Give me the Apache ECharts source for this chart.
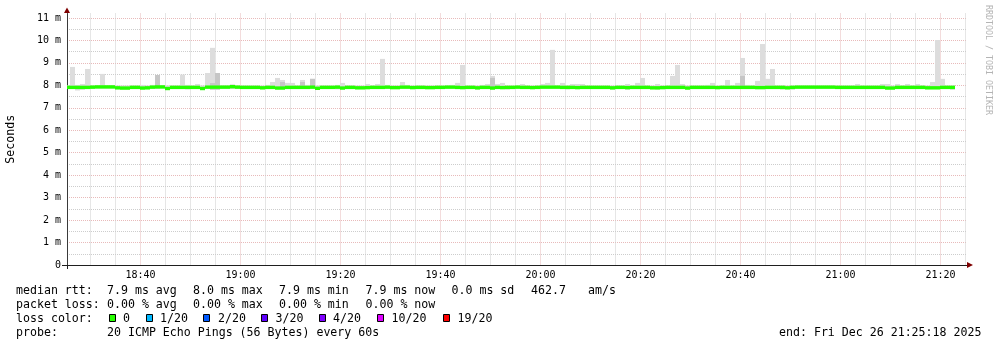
<!DOCTYPE html>
<html><head><meta charset="utf-8">
<script src="https://cdn.jsdelivr.net/npm/echarts@6/dist/echarts.min.js"></script>
<style>html,body{margin:0;padding:0;background:#fff}#c{width:997px;height:347px}</style>
</head><body><div id="c"></div><script>
// ---- data ----
const startTime = '18:25:18';
const endTime = '21:25:18';
const firstCellTime = '18:26';   // each value covers the minute ending at its timestamp
const medianRtt = [
 7.91,7.91,7.91,7.91,7.91,7.92,7.93,7.93,7.93,7.93,
 7.89,7.88,7.88,7.91,7.91,7.88,7.89,7.92,7.93,7.93,
 7.86,7.91,7.91,7.91,7.91,7.91,7.91,7.86,7.92,7.92,
 7.92,7.92,7.92,7.94,7.92,7.91,7.91,7.91,7.91,7.89,
 7.91,7.91,7.88,7.88,7.91,7.91,7.91,7.91,7.91,7.92,
 7.87,7.91,7.91,7.91,7.92,7.88,7.91,7.91,7.89,7.89,
 7.90,7.91,7.91,7.91,7.92,7.90,7.90,7.92,7.92,7.90,
 7.91,7.91,7.90,7.90,7.91,7.91,7.92,7.92,7.91,7.90,
 7.91,7.91,7.89,7.91,7.91,7.88,7.91,7.90,7.91,7.91,
 7.92,7.91,7.91,7.90,7.91,7.92,7.92,7.92,7.92,7.91,
 7.91,7.91,7.90,7.91,7.91,7.91,7.91,7.91,7.91,7.89,
 7.91,7.91,7.90,7.91,7.91,7.91,7.91,7.89,7.89,7.90,
 7.91,7.91,7.91,7.91,7.88,7.91,7.91,7.91,7.91,7.91,
 7.90,7.91,7.91,7.91,7.91,7.91,7.91,7.91,7.90,7.90,
 7.91,7.91,7.91,7.91,7.89,7.91,7.92,7.92,7.92,7.92,
 7.92,7.92,7.92,7.92,7.91,7.91,7.91,7.91,7.91,7.91,
 7.91,7.91,7.91,7.91,7.88,7.88,7.91,7.91,7.91,7.91,
 7.91,7.91,7.89,7.89,7.89,7.91,7.91,7.91
];
const smokeMax = [
 8.00,8.82,8.02,8.06,8.73,8.00,8.00,8.51,8.00,8.00,
 8.00,8.00,8.00,8.00,8.00,8.02,8.00,8.02,8.46,8.00,
 8.00,8.00,8.00,8.48,8.02,8.00,8.06,8.00,8.55,9.67,
 8.55,8.00,8.00,8.03,8.00,8.00,8.00,8.00,8.00,8.00,
 8.02,8.15,8.33,8.24,8.11,8.11,8.00,8.24,8.02,8.29,
 8.00,8.00,8.00,8.00,8.02,8.11,8.00,8.00,8.00,8.00,
 8.06,8.00,8.06,9.18,8.02,8.00,8.00,8.15,8.02,8.00,
 8.00,8.00,8.00,8.00,8.00,8.00,8.00,8.02,8.11,8.91,
 8.00,8.00,8.00,8.02,8.06,8.42,8.06,8.11,8.00,8.00,
 8.00,8.06,8.00,8.00,8.00,8.06,8.11,9.58,8.00,8.11,
 8.00,8.06,8.06,8.06,8.00,8.00,8.00,8.00,8.00,8.00,
 8.00,8.00,8.06,8.00,8.11,8.33,8.00,8.00,8.06,8.00,
 8.00,8.42,8.91,8.06,8.00,8.00,8.00,8.00,8.02,8.11,
 8.00,8.00,8.24,8.00,8.11,9.22,8.02,8.00,8.20,9.84,
 8.29,8.73,8.00,8.00,8.00,8.00,8.00,8.00,8.00,8.00,
 8.00,8.00,8.00,8.00,8.00,8.00,8.00,8.00,8.06,8.00,
 8.00,8.00,8.00,8.06,8.06,8.00,8.06,8.00,8.06,8.00,
 8.06,8.00,8.00,8.15,10.02,8.29,8.00,8.00
];
const smokeMin = [
 7.86,7.86,7.77,7.80,7.86,7.86,7.86,7.86,7.86,7.86,
 7.86,7.81,7.81,7.86,7.86,7.86,7.86,7.86,7.86,7.86,
 7.86,7.86,7.86,7.86,7.82,7.86,7.86,7.86,7.86,7.81,
 7.81,7.86,7.86,7.86,7.86,7.86,7.86,7.86,7.86,7.86,
 7.86,7.86,7.86,7.86,7.86,7.86,7.86,7.86,7.86,7.86,
 7.86,7.86,7.86,7.86,7.82,7.86,7.86,7.86,7.86,7.86,
 7.86,7.86,7.86,7.86,7.86,7.86,7.86,7.86,7.86,7.86,
 7.86,7.86,7.86,7.86,7.86,7.86,7.86,7.86,7.86,7.86,
 7.86,7.86,7.81,7.86,7.86,7.86,7.86,7.86,7.81,7.86,
 7.86,7.86,7.86,7.86,7.86,7.86,7.86,7.86,7.86,7.86,
 7.82,7.86,7.86,7.86,7.86,7.86,7.86,7.86,7.86,7.81,
 7.86,7.86,7.80,7.86,7.86,7.86,7.86,7.86,7.81,7.86,
 7.86,7.86,7.86,7.86,7.86,7.86,7.86,7.86,7.86,7.86,
 7.86,7.86,7.86,7.86,7.86,7.86,7.86,7.86,7.86,7.86,
 7.86,7.86,7.86,7.81,7.86,7.81,7.86,7.86,7.86,7.86,
 7.86,7.86,7.86,7.86,7.86,7.86,7.86,7.86,7.86,7.86,
 7.86,7.86,7.86,7.86,7.86,7.86,7.86,7.86,7.86,7.86,
 7.86,7.86,7.86,7.86,7.86,7.86,7.86,7.80
];
const darkCells = [18, 29, 30, 33, 43, 47, 49, 85, 135];
const darkTops  = [8.46, 8.10, 8.55, 8.03, 8.15, 8.15, 8.29, 8.33, 8.42];

const xTickLabels = ['18:40','19:00','19:20','19:40','20:00','20:20','20:40','21:00','21:20'];
const yTickValues = [0,1,2,3,4,5,6,7,8,9,10,11];
const yTickLabels = ['0','1 m','2 m','3 m','4 m','5 m','6 m','7 m','8 m','9 m','10 m','11 m'];
const yMinorValues = [0.5,1.5,2.5,3.5,4.5,5.5,6.5,7.5,8.5,9.5,10.5];

const statLabels = ['median rtt:', 'packet loss:', 'loss color:', 'probe:'];
const rttStats = ['7.9 ms avg', '8.0 ms max', '7.9 ms min', '7.9 ms now', '0.0 ms sd', '462.7', 'am/s'];
const lossStats = ['0.00 % avg', '0.00 % max', '0.00 % min', '0.00 % now'];
const lossLabels = ['0', '1/20', '2/20', '3/20', '4/20', '10/20', '19/20'];
const lossColors = ['#26ff00', '#00b8ff', '#0059ff', '#5e00ff', '#7e00ff', '#dd00ff', '#ff0000'];
const probeText = '20 ICMP Echo Pings (56 Bytes) every 60s';
const endText = 'end: Fri Dec 26 21:25:18 2025';
const yAxisTitle = 'Seconds';
const watermark = 'RRDTOOL / TOBI OETIKER';

// ---- helpers ----
function toMin(s) { const p = s.split(':').map(Number); return p[0] * 60 + p[1] + (p[2] || 0) / 60; }
const xMin = toMin(startTime), xMax = toMin(endTime), t0 = toMin(firstCellTime);
const majorX = xTickLabels.map(toMin);
const minorX = [];
for (let m = Math.ceil(xMin / 5) * 5; m <= xMax; m += 5) if (m % 20 !== 0) minorX.push(m);
function fmtMin(v) { const h = Math.floor(v / 60), m = Math.round(v - h * 60); return h + ':' + (m < 10 ? '0' : '') + m; }

const smokeData = smokeMax.map((hi, k) => [t0 + k, smokeMin[k], hi]);
const darkData = darkCells.map((k, i) => [t0 + k, smokeMin[k], darkTops[i]]);
const medData = medianRtt.map((v, k) => [t0 + k, v]);

function cellRect(params, api, lo, hi) {
  const t = api.value(0);
  const a = api.coord([t - 1, hi]);
  const b = api.coord([t, lo]);
  const x0 = Math.floor(a[0]), x1 = Math.floor(b[0]);
  const cs = params.coordSys;
  return echarts.graphic.clipRectByRect({ x: x0, y: a[1], width: x1 - x0, height: b[1] - a[1] },
    { x: cs.x, y: cs.y, width: cs.width, height: cs.height });
}

const MONO = 'DejaVu Sans Mono';
const LF = 11.6;
const majorGrid = '#e8baba';
const minorGrid = '#cdcdcd';

const graphics = [];
graphics.push({ type: 'polygon', shape: { points: [[64, 13], [70, 13], [67, 7.5]] }, style: { fill: '#7f0000' }, z: 100 });
graphics.push({ type: 'polygon', shape: { points: [[967, 262], [967, 268], [973, 265]] }, style: { fill: '#7f0000' }, z: 100 });
graphics.push({ type: 'line', shape: { x1: 62, y1: 265.5, x2: 67, y2: 265.5 }, style: { stroke: '#1f1f1f', lineWidth: 1 }, z: 100 });
graphics.push({ type: 'line', shape: { x1: 67.5, y1: 265, x2: 67.5, y2: 269 }, style: { stroke: '#1f1f1f', lineWidth: 1 }, z: 100 });
const rowY = [291, 305, 319, 333];
function txt(x, y, s, extra) {
  return Object.assign({ type: 'text', x: x, y: y, style: { text: s, fill: '#000', font: LF + 'px "' + MONO + '"', textVerticalAlign: 'middle', textAlign: 'left' }, z: 100 }, extra || {});
}
statLabels.forEach((s, i) => graphics.push(txt(16, rowY[i], s)));
const rttX = [107, 193, 279, 365.5, 451.5, 531, 588];
rttStats.forEach((s, i) => graphics.push(txt(rttX[i], rowY[0], s)));
const lossX = [107, 193, 279, 365.5];
lossStats.forEach((s, i) => graphics.push(txt(lossX[i], rowY[1], s)));
const boxX = [109, 146, 203, 261, 319, 377, 443];
const boxLabelX = [123, 160, 218, 275.5, 333, 391.5, 457.5];
lossLabels.forEach((s, i) => {
  graphics.push({ type: 'rect', shape: { x: boxX[i] + 0.5, y: 314.5, width: 6, height: 7 }, style: { fill: lossColors[i], stroke: '#000', lineWidth: 1 }, z: 100 });
  graphics.push(txt(boxLabelX[i], rowY[2], s));
});
graphics.push(txt(107, rowY[3], probeText));
graphics.push(txt(779, rowY[3], endText));
graphics.push({ type: 'text', x: 988, y: 60, rotation: -Math.PI / 2,
  style: { text: watermark, fill: '#b4b4b4', font: '8.3px "' + MONO + '"', textAlign: 'center', textVerticalAlign: 'middle' }, z: 100 });

const chart = echarts.init(document.getElementById('c'), null, { renderer: 'canvas' });
chart.setOption({
  backgroundColor: '#ffffff',
  animation: false,
  grid: { left: 67, right: 30, top: 13.5, bottom: 82, containLabel: false, outerBoundsMode: 'none' },
  xAxis: [
    { type: 'value', min: xMin, max: xMax,
      axisLine: { show: true, lineStyle: { color: '#1f1f1f', width: 1 } },
      axisTick: { show: false, customValues: majorX },
      axisLabel: { customValues: majorX, formatter: fmtMin, fontFamily: MONO, fontSize: 10, color: '#000', margin: 5 },
      splitLine: { show: true, lineStyle: { color: majorGrid, type: [1, 1], width: 1 } } },
    { type: 'value', min: xMin, max: xMax, position: 'bottom',
      axisLine: { show: false }, axisLabel: { show: false },
      axisTick: { show: false, customValues: minorX },
      splitLine: { show: true, lineStyle: { color: minorGrid, type: [1, 1], width: 1 } } }
  ],
  yAxis: [
    { type: 'value', min: 0, max: 11.2,
      name: yAxisTitle, nameLocation: 'middle', nameGap: 50, nameRotate: 90,
      nameTextStyle: { fontFamily: MONO, fontSize: LF, color: '#000' },
      axisLine: { show: true, lineStyle: { color: '#3a3a3a', width: 1 } },
      axisTick: { show: false, customValues: yTickValues },
      axisLabel: { customValues: yTickValues, formatter: v => yTickLabels[yTickValues.indexOf(Math.round(v))] || '', fontFamily: MONO, fontSize: 10, color: '#000', margin: 6 },
      splitLine: { show: true, lineStyle: { color: majorGrid, type: [1, 1], width: 1 } } },
    { type: 'value', min: 0, max: 11.2, position: 'left',
      axisLine: { show: false }, axisLabel: { show: false },
      axisTick: { show: false, customValues: yMinorValues },
      splitLine: { show: true, lineStyle: { color: minorGrid, type: [1, 1], width: 1 } } }
  ],
  series: [
    { type: 'custom', name: 'smoke', xAxisIndex: 0, yAxisIndex: 0, data: smokeData, z: 2,
      renderItem: (params, api) => {
        const r = cellRect(params, api, api.value(1), api.value(2));
        return r && { type: 'rect', shape: r, style: { fill: '#dddddd' } };
      } },
    { type: 'custom', name: 'smokeDark', xAxisIndex: 0, yAxisIndex: 0, data: darkData, z: 3,
      renderItem: (params, api) => {
        const r = cellRect(params, api, api.value(1), api.value(2));
        return r && { type: 'rect', shape: r, style: { fill: '#c6c6c6' } };
      } },
    { type: 'custom', name: 'median', xAxisIndex: 0, yAxisIndex: 0, data: medData, z: 4,
      renderItem: (params, api) => {
        const t = api.value(0);
        const a = api.coord([t - 1, api.value(1)]);
        const b = api.coord([t, api.value(1)]);
        const x0 = Math.floor(a[0]), x1 = Math.floor(b[0]);
        const cs = params.coordSys;
        const r = echarts.graphic.clipRectByRect({ x: x0, y: a[1] - 1.7, width: x1 - x0, height: 3.4 },
          { x: cs.x, y: cs.y, width: cs.width, height: cs.height });
        return r && { type: 'rect', shape: r, style: { fill: lossColors[0] } };
      } }
  ],
  graphic: graphics
});
</script></body></html>
